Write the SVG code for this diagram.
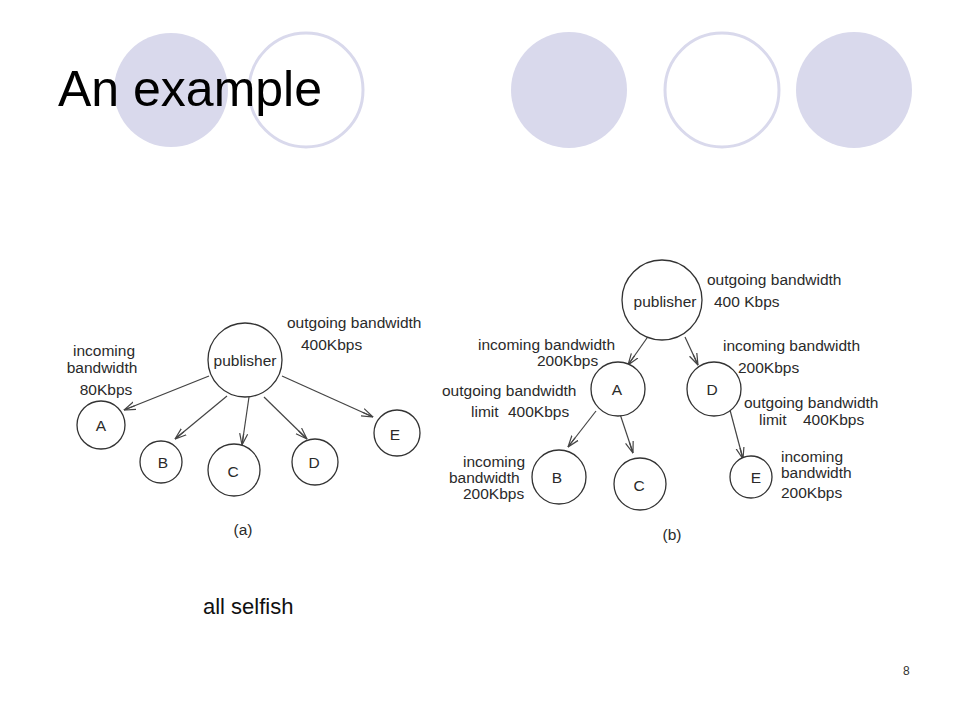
<svg xmlns="http://www.w3.org/2000/svg" width="960" height="720" viewBox="0 0 960 720">
<defs>
<style>
.deco-f{fill:#d9d9ec;stroke:none}
.deco-o{fill:none;stroke:#d9d9ec;stroke-width:3}
.node{fill:#fff;stroke:#333;stroke-width:1.3}
.t{font-family:"Liberation Sans",Arial,sans-serif;fill:#2a2a2a;font-size:15.5px}
.c{text-anchor:middle}
.edge{stroke:#444;stroke-width:1.2;fill:none;marker-end:url(#arr)}
</style>
<marker id="arr" viewBox="0 0 12 10" refX="11.5" refY="5" markerWidth="12" markerHeight="10" markerUnits="userSpaceOnUse" orient="auto">
<path d="M0,1 L11.5,5 L0,9 M0,5 L11.5,5" fill="none" stroke="#444" stroke-width="1.2"/>
</marker>
</defs>
<rect width="960" height="720" fill="#fff"/>
<g id="decor">
<circle class="deco-f" cx="171" cy="90" r="57"/>
<circle class="deco-o" cx="306" cy="90" r="57"/>
<circle class="deco-f" cx="569" cy="90" r="58"/>
<circle class="deco-o" cx="722" cy="90" r="57"/>
<circle class="deco-f" cx="854" cy="90" r="58"/>
</g>
<text id="title" x="58" y="106" font-family="Liberation Sans,Arial,sans-serif" font-size="50" fill="#000">An example</text>

<g id="connectors">
<line class="edge" x1="209" y1="376" x2="124" y2="410"/>
<line class="edge" x1="227" y1="396" x2="175" y2="439"/>
<line class="edge" x1="249" y1="397" x2="242" y2="445"/>
<line class="edge" x1="264" y1="397" x2="307" y2="439"/>
<line class="edge" x1="282" y1="376" x2="373" y2="417"/>
<line class="edge" x1="647" y1="338" x2="628" y2="365"/>
<line class="edge" x1="685" y1="337" x2="698" y2="365"/>
<line class="edge" x1="596" y1="411" x2="568" y2="447"/>
<line class="edge" x1="619" y1="411" x2="633" y2="453"/>
<line class="edge" x1="730" y1="410" x2="743" y2="459"/>
</g>

<g id="a-publisher"><circle class="node" cx="245" cy="360" r="37"/><text class="t c" x="245" y="366">publisher</text></g>
<g id="a-A"><circle class="node" cx="101" cy="425" r="24"/><text class="t c" x="101" y="431">A</text></g>
<g id="a-B"><circle class="node" cx="161" cy="462" r="21"/><text class="t c" x="163" y="468">B</text></g>
<g id="a-C"><circle class="node" cx="234" cy="470" r="26"/><text class="t c" x="233" y="477">C</text></g>
<g id="a-D"><circle class="node" cx="315" cy="462" r="23"/><text class="t c" x="314" y="468">D</text></g>
<g id="a-E"><circle class="node" cx="397" cy="433" r="23"/><text class="t c" x="395" y="440">E</text></g>

<g id="a-labels">
<text class="t" x="287" y="328">outgoing bandwidth</text>
<text class="t" x="301" y="350">400Kbps</text>
<text class="t c" x="104" y="356">incoming</text>
<text class="t c" x="102" y="373">bandwidth</text>
<text class="t c" x="106" y="395">80Kbps</text>
<text class="t c" x="243" y="535">(a)</text>
</g>

<g id="b-publisher"><circle class="node" cx="662" cy="300" r="40"/><text class="t c" x="665" y="307">publisher</text></g>
<g id="b-A"><circle class="node" cx="618" cy="389" r="27"/><text class="t c" x="617" y="395">A</text></g>
<g id="b-D"><circle class="node" cx="714" cy="389" r="27"/><text class="t c" x="712" y="395">D</text></g>
<g id="b-B"><circle class="node" cx="559" cy="477" r="27"/><text class="t c" x="557" y="483">B</text></g>
<g id="b-C"><circle class="node" cx="640" cy="484" r="26"/><text class="t c" x="639" y="491">C</text></g>
<g id="b-E"><circle class="node" cx="751" cy="477" r="21"/><text class="t c" x="756" y="483">E</text></g>

<g id="b-labels">
<text class="t" x="707" y="285">outgoing bandwidth</text>
<text class="t" x="714" y="307">400 Kbps</text>
<text class="t" x="478" y="350">incoming bandwidth</text>
<text class="t" x="537" y="366">200Kbps</text>
<text class="t" x="442" y="396">outgoing bandwidth</text>
<text class="t" x="471" y="417">limit</text>
<text class="t" x="508" y="417">400Kbps</text>
<text class="t" x="723" y="351">incoming bandwidth</text>
<text class="t" x="738" y="373">200Kbps</text>
<text class="t" x="744" y="408">outgoing bandwidth</text>
<text class="t" x="759" y="425">limit</text>
<text class="t" x="803" y="425">400Kbps</text>
<text class="t" x="463" y="467">incoming</text>
<text class="t" x="449" y="483">bandwidth</text>
<text class="t" x="463" y="499">200Kbps</text>
<text class="t" x="781" y="462">incoming</text>
<text class="t" x="781" y="478">bandwidth</text>
<text class="t" x="781" y="498">200Kbps</text>
<text class="t c" x="672" y="540">(b)</text>
</g>

<text id="caption" x="203" y="614" font-family="Liberation Sans,Arial,sans-serif" font-size="22" fill="#111">all selfish</text>
<text id="page" x="903" y="675" font-family="Liberation Sans,Arial,sans-serif" font-size="12" fill="#333">8</text>
</svg>
